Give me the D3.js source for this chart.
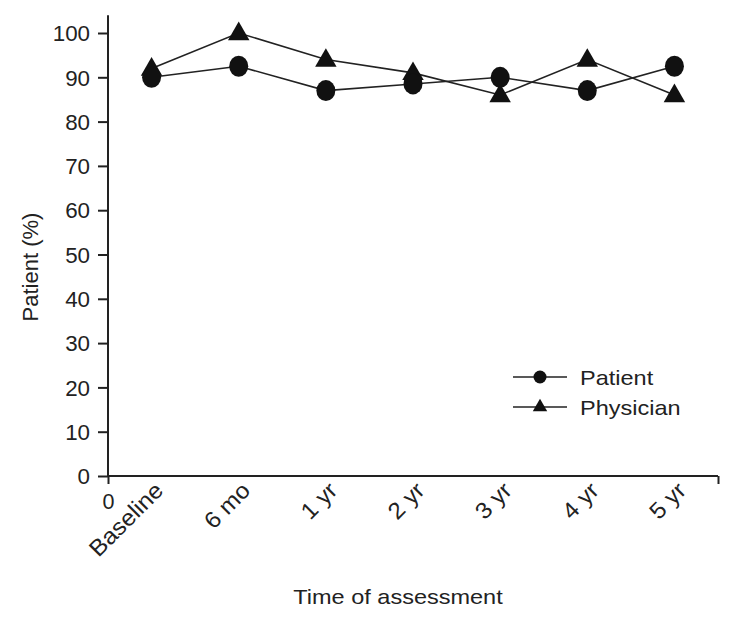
<!DOCTYPE html>
<html><head><meta charset="utf-8">
<script src="https://cdn.jsdelivr.net/npm/d3@7"></script>
<style>body{margin:0;background:#fff;} text{font-family:"Liberation Sans",Arial,sans-serif;fill:#222;}</style>
</head><body><svg id="c" width="734" height="617"></svg>
<script>
const categories = ["Baseline","6 mo","1 yr","2 yr","3 yr","4 yr","5 yr"];
const patient = [90, 92.5, 87, 88.5, 90, 87, 92.5];
const physician = [92, 100, 94, 91, 86, 94, 86];
const yTicks = [0,10,20,30,40,50,60,70,80,90,100];

const svg = d3.select("#c");
const x = d3.scaleLinear().domain([0,7]).range([108,718]);
const y = d3.scaleLinear().domain([0,100]).range([476,33]);
const FS = 21;

// y axis
const ya = svg.append("g").attr("transform","translate(108,0)")
  .call(d3.axisLeft(y).tickValues(yTicks).tickSize(10).tickPadding(8));
ya.select(".domain").attr("d",`M0,${y(104)}V${y(0)}`);
ya.selectAll("path,line").attr("stroke","#222").attr("stroke-width",2);
ya.selectAll("text").attr("font-size",FS+0.5).attr("font-family","Liberation Sans, Arial, sans-serif").attr("fill","#222").attr("dy","0.36em")
  .attr("transform","scale(1.04,1)").attr("x",-18/1.04);

// x axis
const xa = svg.append("g").attr("transform","translate(0,476)")
  .call(d3.axisBottom(x).tickValues([0,7]).tickSize(8).tickPadding(10).tickFormat(d=>d===0?"0":""));
xa.select(".domain").attr("d",`M${x(0)},0H${x(7)}`);
xa.selectAll("path,line").attr("stroke","#222").attr("stroke-width",2);
xa.selectAll("text").attr("font-size",FS+0.5).attr("font-family","Liberation Sans, Arial, sans-serif").attr("fill","#222");

// category labels
svg.append("g").selectAll("text").data(categories).join("text")
  .attr("transform",(d,i)=>`translate(${x(i+0.5)+13},492) rotate(-45) scale(1.06,1)`)
  .attr("text-anchor","end").attr("font-size",23).text(d=>d);

// titles
svg.append("text").attr("transform","translate(398,604) scale(1.12,1)").attr("text-anchor","middle").attr("font-size",FS).text("Time of assessment");
svg.append("text").attr("transform","translate(38,267) rotate(-90)").attr("text-anchor","middle").attr("font-size",FS+1).text("Patient (%)");

const line = d3.line().x((d,i)=>x(i+0.5)).y(d=>y(d));
svg.append("path").datum(physician).attr("d",line).attr("fill","none").attr("stroke","#222").attr("stroke-width",1.6);
svg.append("path").datum(patient).attr("d",line).attr("fill","none").attr("stroke","#222").attr("stroke-width",1.6);

const tri = d3.symbol().type(d3.symbolTriangle).size(200);
svg.append("g").selectAll("path").data(physician).join("path")
  .attr("transform",(d,i)=>`translate(${x(i+0.5)},${y(d)+1})`).attr("d",tri).attr("fill","#111");
svg.append("g").selectAll("ellipse").data(patient).join("ellipse")
  .attr("cx",(d,i)=>x(i+0.5)).attr("cy",d=>y(d)).attr("rx",9.5).attr("ry",10.5).attr("fill","#111");

// legend
const leg = [{name:"Patient",sym:"c"},{name:"Physician",sym:"t"}];
const lg = svg.append("g").selectAll("g").data(leg).join("g").attr("transform",(d,i)=>`translate(0,${377+i*30})`);
lg.append("line").attr("x1",513).attr("x2",567).attr("stroke","#222").attr("stroke-width",1.6);
lg.filter(d=>d.sym==="c").append("circle").attr("cx",540).attr("r",6.5).attr("fill","#111");
lg.filter(d=>d.sym==="t").append("path").attr("transform","translate(540,0)").attr("d",d3.symbol().type(d3.symbolTriangle).size(90)).attr("fill","#111");
lg.append("text").attr("transform","translate(580,0) scale(1.12,1)").attr("dy","0.36em").attr("font-size",FS).text(d=>d.name);
</script></body></html>
